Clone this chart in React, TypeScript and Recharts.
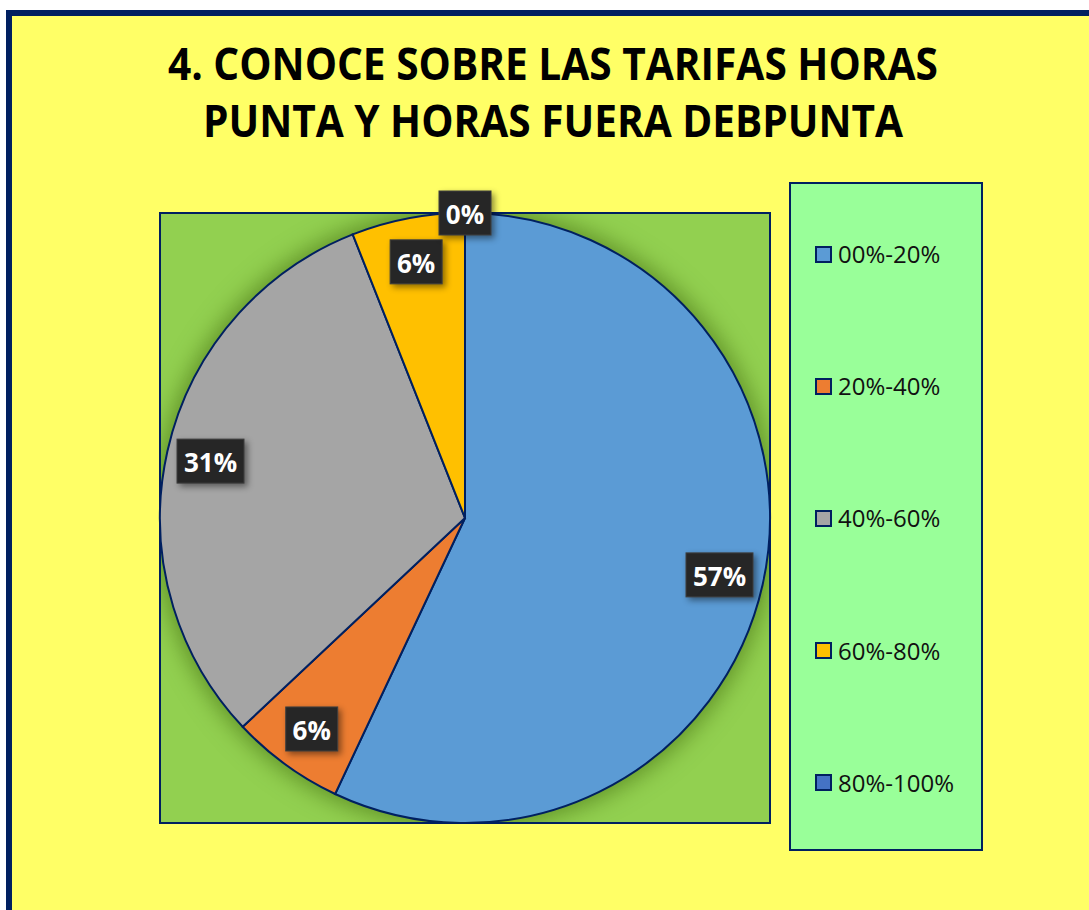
import { PieChart, Pie, Cell, Legend } from "recharts";

const categories = ["00%-20%", "20%-40%", "40%-60%", "60%-80%", "80%-100%"];
const shares = [57, 6, 31, 6, 0];
const sliceColors = ["#5B9BD5", "#ED7D31", "#A5A5A5", "#FFC000", "#4472C4"];
const titleLines = ["4. CONOCE SOBRE LAS TARIFAS HORAS", "PUNTA Y HORAS FUERA DEBPUNTA"];

const data = categories.map((name, i) => ({ name, value: shares[i] }));

const NAVY = "#002060";
const FONT = "'Open Sans', 'Liberation Sans', sans-serif";
// pie geometry (px inside the 1089x910 chart)
const CX = 465;
const CY = 518;
const R = 305;

// eslint-disable-next-line @typescript-eslint/no-explicit-any
function DataLabel(props: any) {
  const { cx, cy, midAngle, outerRadius, value } = props;
  const r = value === 0 ? outerRadius : outerRadius * 0.855;
  const rad = (-midAngle * Math.PI) / 180;
  const x = cx + r * Math.cos(rad);
  const y = cy + r * Math.sin(rad);
  const text = `${value}%`;
  const w = 15 * text.length + 22;
  return (
    <g>
      <rect
        x={x - w / 2}
        y={y - 22}
        width={w}
        height={44}
        fill="#262626"
        stroke="#3f3f3f"
        strokeWidth={1}
        style={{ filter: "drop-shadow(3px 3px 3px rgba(0,0,0,0.45))" }}
      />
      <text
        x={x}
        y={y + 1}
        textAnchor="middle"
        dominantBaseline="central"
        fill="#ffffff"
        fontFamily={FONT}
        fontWeight={700}
        fontSize={26}
      >
        {text}
      </text>
    </g>
  );
}

// eslint-disable-next-line @typescript-eslint/no-explicit-any
function LegendBox(props: any) {
  // eslint-disable-next-line @typescript-eslint/no-explicit-any
  const payload: any[] = props.payload ?? [];
  return (
    <div
      style={{
        boxSizing: "border-box",
        width: 194,
        height: 669,
        background: "#99FF99",
        border: `2px solid ${NAVY}`,
        display: "flex",
        flexDirection: "column",
        justifyContent: "space-around",
        paddingTop: 4,
      }}
    >
      {payload.map((entry, i) => (
        <div key={i} style={{ display: "flex", alignItems: "center", paddingLeft: 24 }}>
          <span
            style={{
              boxSizing: "border-box",
              width: 17,
              height: 17,
              background: entry.color ?? sliceColors[i],
              border: `2px solid ${NAVY}`,
              marginRight: 6,
            }}
          />
          <span style={{ fontFamily: FONT, fontSize: 24, color: "#111", lineHeight: "28px" }}>
            {entry.value}
          </span>
        </div>
      ))}
    </div>
  );
}

export default function App() {
  return (
    <div
      style={{
        position: "absolute",
        left: 0,
        top: 0,
        width: 1089,
        height: 910,
        overflow: "hidden",
        background: "#ffffff",
      }}
    >
      {/* outer frame */}
      <div
        style={{
          position: "absolute",
          left: 6,
          top: 10,
          width: 1200,
          height: 1000,
          background: "#FFFF66",
          borderTop: `6px solid ${NAVY}`,
          borderLeft: `6px solid ${NAVY}`,
        }}
      />
      {/* title */}
      <svg width={1089} height={160} style={{ position: "absolute", left: 0, top: 0 }}>
        <text
          x={553}
          y={80}
          textAnchor="middle"
          fontFamily={FONT}
          fontWeight={700}
          fontSize={45}
          textLength={770}
          lengthAdjust="spacingAndGlyphs"
          fill="#000"
        >
          {titleLines[0]}
        </text>
        <text
          x={553}
          y={137}
          textAnchor="middle"
          fontFamily={FONT}
          fontWeight={700}
          fontSize={45}
          textLength={700}
          lengthAdjust="spacingAndGlyphs"
          fill="#000"
        >
          {titleLines[1]}
        </text>
      </svg>
      {/* plot area */}
      <div
        style={{
          position: "absolute",
          boxSizing: "border-box",
          left: CX - R - 1,
          top: CY - R - 1,
          width: 2 * R + 2,
          height: 2 * R + 2,
          background: "#92D050",
          border: `2px solid ${NAVY}`,
          overflow: "hidden",
        }}
      >
        <div
          style={{
            position: "absolute",
            left: -1,
            top: -1,
            width: 2 * R,
            height: 2 * R,
            borderRadius: "50%",
            boxShadow: "0 0 22px 6px rgba(60,100,10,0.55)",
          }}
        />
      </div>
      <div style={{ position: "absolute", left: 0, top: 0 }}>
        <PieChart width={1089} height={910} margin={{ top: 0, right: 0, bottom: 0, left: 0 }}>
          <Pie
            data={data}
            dataKey="value"
            nameKey="name"
            cx={CX}
            cy={CY}
            outerRadius={R}
            startAngle={90}
            endAngle={-270}
            stroke={NAVY}
            strokeWidth={2}
            label={DataLabel}
            labelLine={false}
            isAnimationActive={false}
          >
            {data.map((d, i) => (
              <Cell key={d.name} fill={sliceColors[i]} />
            ))}
          </Pie>
          <Legend
            layout="vertical"
            align="right"
            verticalAlign="top"
            content={LegendBox}
            wrapperStyle={{ position: "absolute", left: 789, top: 182, width: 194, height: 669 }}
          />
        </PieChart>
      </div>
    </div>
  );
}
